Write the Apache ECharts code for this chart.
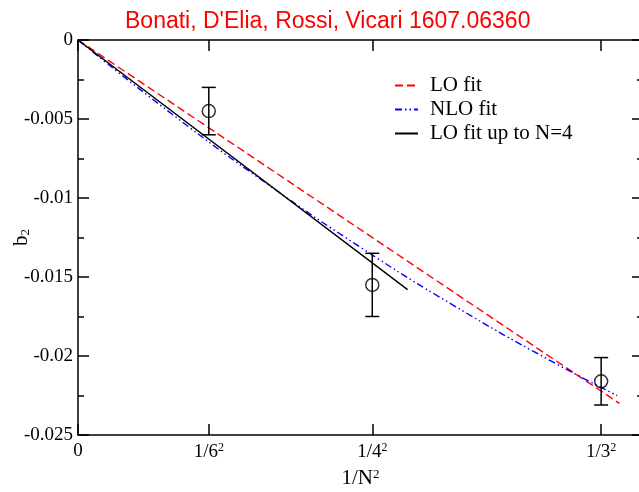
<!DOCTYPE html>
<html><head><meta charset="utf-8">
<script src="https://cdn.jsdelivr.net/npm/echarts@6/dist/echarts.min.js"></script>
<style>html,body{margin:0;padding:0;background:#fff}#c{width:639px;height:492px}</style>
</head><body><div id="c"></div>
<script>
// Data
const xTickValues = [0, 1/36, 1/16, 1/9];
const xTickLabels = ['0', '1/6{s|2}', '1/4{s|2}', '1/3{s|2}'];
const yTickLabels = ['0', '-0.005', '-0.01', '-0.015', '-0.02', '-0.025'];
const pointsX = [1/36, 1/16, 1/9];
const pointsY = [-0.0045, -0.0155, -0.0216];
const pointsErr = [0.0015, 0.0020, 0.0015];
const loFitX = [0, 0.115];
const loFitY = [0, -0.0230];
const nloFitX = [0, 0.02, 0.04, 0.06, 0.08, 0.10, 0.1145];
const nloFitY = [0, -0.0047, -0.00907, -0.01312, -0.01684, -0.02024, -0.0225];
const lo4FitX = [0, 0.07];
const lo4FitY = [0, -0.0158];

const serif = 'Liberation Serif';
const chart = echarts.init(document.getElementById('c'));
const zip = (a, b) => a.map((v, i) => [v, b[i]]);
const errData = pointsX.map((x, i) => [x, pointsY[i] - pointsErr[i], pointsY[i] + pointsErr[i]]);

const axisLine = {show: true, onZero: false, lineStyle: {color: '#000', width: 1.5}};
const tick = {inside: true, length: 11, lineStyle: {color: '#000', width: 1.5}};
chart.setOption({
  animation: false,
  title: {
    text: "Bonati, D'Elia, Rossi, Vicari 1607.06360",
    left: 120, top: 5,
    textStyle: {color: '#ff0000', fontFamily: 'Liberation Sans', fontSize: 23, fontWeight: 'normal'}
  },
  legend: {
    left: 389, top: 70, orient: 'vertical', itemWidth: 23, itemHeight: 18, itemGap: 3,
    itemStyle: {opacity: 0},
    textStyle: {fontFamily: serif, fontSize: 21, color: '#000', padding: [0, 0, 0, 7]},
    data: ['LO fit', 'NLO fit', 'LO fit up to N=4']
  },
  grid: {left: 78, top: 40, width: 565, height: 395, outerBoundsMode: 'none', containLabel: false},
  xAxis: [{
    type: 'value', min: 0, max: 0.12, position: 'bottom',
    name: '1/N{s|2}', nameLocation: 'middle', nameGap: 33, nameMoveOverlap: false,
    nameTextStyle: {fontFamily: serif, fontSize: 21, color: '#000', rich: {s: {fontFamily: serif, fontSize: 13, verticalAlign: 'top', padding: [0,0,8,0]}}},
    axisLine: axisLine,
    splitLine: {show: false},
    axisTick: Object.assign({customValues: xTickValues}, tick),
    axisLabel: {
      customValues: xTickValues, margin: 7, color: '#000', fontFamily: serif, fontSize: 19,
      formatter: v => { const i = xTickValues.findIndex(t => Math.abs(t - v) < 1e-9); return i >= 0 ? xTickLabels[i] : ''; },
      rich: {s: {fontFamily: serif, fontSize: 12, verticalAlign: 'top', padding: [0,0,8,0]}}
    }
  }, {
    type: 'value', min: 0, max: 0.12, position: 'top',
    axisLine: axisLine, splitLine: {show: false},
    axisTick: Object.assign({customValues: xTickValues}, tick),
    axisLabel: {show: false}
  }],
  yAxis: [{
    type: 'value', min: -0.025, max: 0, interval: 0.005, position: 'left',
    name: 'b{s|2}', nameLocation: 'middle', nameGap: 46, nameRotate: 90, nameMoveOverlap: false,
    nameTextStyle: {fontFamily: serif, fontSize: 21, color: '#000', rich: {s: {fontFamily: serif, fontSize: 13, verticalAlign: 'bottom'}}},
    axisLine: axisLine, splitLine: {show: false},
    axisTick: tick,
    minorTick: {show: true, splitNumber: 2, length: 6, lineStyle: {color: '#000', width: 1.5}},
    axisLabel: {
      margin: 5, color: '#000', fontFamily: serif, fontSize: 19,
      formatter: v => yTickLabels[Math.round(-v / 0.005)]
    }
  }, {
    type: 'value', min: -0.025, max: 0, interval: 0.005, position: 'right',
    axisLine: axisLine, splitLine: {show: false},
    axisTick: tick,
    minorTick: {show: true, splitNumber: 2, length: 6, lineStyle: {color: '#000', width: 1.5}},
    axisLabel: {show: false}
  }],
  series: [
    {name: 'LO fit', type: 'line', data: zip(loFitX, loFitY), symbol: 'none',
     lineStyle: {color: '#ff0000', width: 1.4, type: [8, 4]}, itemStyle: {color: '#ff0000'}},
    {name: 'NLO fit', type: 'line', data: zip(nloFitX, nloFitY), symbol: 'none', smooth: true,
     lineStyle: {color: '#0000ff', width: 1.4, type: [7, 3, 1.5, 3, 1.5, 3]}, itemStyle: {color: '#0000ff'}},
    {name: 'LO fit up to N=4', type: 'line', data: zip(lo4FitX, lo4FitY), symbol: 'none',
     lineStyle: {color: '#000', width: 1.4}, itemStyle: {color: '#000'}},
    {type: 'custom', data: errData, z: 5,
     renderItem: (params, api) => {
       const x = api.value(0);
       const lo = api.coord([x, api.value(1)]);
       const hi = api.coord([x, api.value(2)]);
       const w = 7;
       const st = {stroke: '#000', lineWidth: 1.5};
       return {type: 'group', children: [
         {type: 'line', shape: {x1: lo[0], y1: lo[1], x2: hi[0], y2: hi[1]}, style: st},
         {type: 'line', shape: {x1: lo[0]-w, y1: lo[1], x2: lo[0]+w, y2: lo[1]}, style: st},
         {type: 'line', shape: {x1: hi[0]-w, y1: hi[1], x2: hi[0]+w, y2: hi[1]}, style: st}
       ]};
     }},
    {type: 'scatter', data: zip(pointsX, pointsY), symbol: 'circle', symbolSize: 13, z: 6,
     itemStyle: {color: 'rgba(0,0,0,0)', borderColor: '#000', borderWidth: 1.5}}
  ]
});
</script></body></html>
